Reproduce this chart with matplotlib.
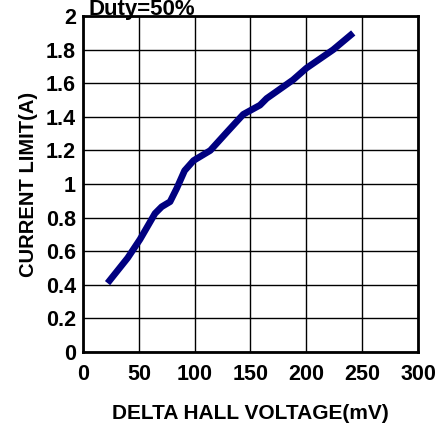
import matplotlib
matplotlib.use("Agg")
import matplotlib.pyplot as plt
from matplotlib.transforms import offset_copy

x_mv = [22, 40, 51, 64.5, 70.5, 78, 84, 91, 99, 114, 129, 143.5, 158.5, 164.5, 188, 200, 224, 242]
i_a = [0.41, 0.56, 0.67, 0.825, 0.865, 0.895, 0.975, 1.08, 1.14, 1.20, 1.31, 1.415, 1.47, 1.51, 1.62, 1.69, 1.80, 1.90]
xticks = [0, 50, 100, 150, 200, 250, 300]
yticks = [0, 0.2, 0.4, 0.6, 0.8, 1, 1.2, 1.4, 1.6, 1.8, 2]
ytick_labels = ["0", "0.2", "0.4", "0.6", "0.8", "1", "1.2", "1.4", "1.6", "1.8", "2"]

plt.rcParams['font.family'] = ['Liberation Sans', 'DejaVu Sans']
plt.rcParams['font.weight'] = 'bold'

fig = plt.figure(figsize=(4.4, 4.25), dpi=100)
ax = fig.add_axes([0.1886, 0.1718, 0.95 - 0.1886, 0.962 - 0.1718])
ax.plot(x_mv, i_a, color='#000080', lw=4.8, solid_capstyle='butt', zorder=3)
ax.set_xlim(0, 300)
ax.set_ylim(0, 2)
ax.set_xticks(xticks)
ax.set_yticks(yticks)
ax.set_yticklabels(ytick_labels)
ax.grid(True, color='black', lw=1.0)
for s in ax.spines.values():
    s.set_linewidth(2)
ax.tick_params(length=0, labelsize=15.5)
ax.tick_params(axis='x', pad=9)
ax.tick_params(axis='y', pad=5)
for lab in ax.get_xticklabels() + ax.get_yticklabels():
    lab.set_fontweight('bold')
ax.set_xlabel('DELTA HALL VOLTAGE(mV)', fontsize=15, fontweight='bold', labelpad=13)
ax.set_ylabel('CURRENT LIMIT(A)', fontsize=14.5, fontweight='bold', labelpad=6)
tr = offset_copy(ax.transAxes, fig=fig, x=0, y=1, units='points')
ax.text(0.015, 1.0, 'Duty=50%', transform=tr, fontsize=16, ha='left', va='baseline')
fig.savefig('out.png', dpi=100)
